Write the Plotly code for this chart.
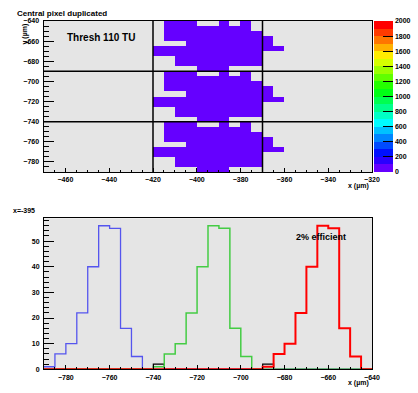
import colorsys
import plotly.graph_objects as go

# ---------------- data: top 2D map ----------------
map_x_centers = [-417.5, -412.5, -407.5, -402.5, -397.5, -392.5,
                 -387.5, -382.5, -377.5, -372.5, -367.5, -362.5]
map_y_centers = [-642.5, -647.5, -652.5, -657.5, -662.5, -667.5, -672.5, -677.5, -682.5, -687.5,
                 -692.5, -697.5, -702.5, -707.5, -712.5, -717.5, -722.5, -727.5, -732.5, -737.5,
                 -742.5, -747.5, -752.5, -757.5, -762.5, -767.5, -772.5, -777.5, -782.5, -787.5]
map_counts = [
    [0, 50, 50, 50, 0, 0, 50, 0, 50, 0, 0, 0],
    [0, 50, 50, 50, 50, 50, 50, 50, 50, 0, 0, 0],
    [0, 50, 50, 50, 50, 50, 50, 50, 50, 50, 0, 0],
    [0, 50, 50, 50, 50, 50, 50, 50, 50, 50, 50, 0],
    [0, 0, 0, 50, 50, 50, 50, 50, 50, 50, 50, 0],
    [50, 50, 50, 50, 50, 50, 50, 50, 50, 50, 50, 50],
    [50, 50, 50, 50, 50, 50, 50, 50, 50, 50, 0, 0],
    [0, 0, 50, 50, 50, 50, 50, 50, 50, 50, 0, 0],
    [0, 0, 50, 50, 50, 50, 50, 50, 50, 50, 0, 0],
    [0, 0, 0, 0, 50, 50, 50, 0, 0, 0, 0, 0],
    [0, 50, 50, 50, 0, 0, 50, 0, 50, 0, 0, 0],
    [0, 50, 50, 50, 50, 50, 50, 50, 50, 0, 0, 0],
    [0, 50, 50, 50, 50, 50, 50, 50, 50, 50, 0, 0],
    [0, 50, 50, 50, 50, 50, 50, 50, 50, 50, 50, 0],
    [0, 0, 0, 50, 50, 50, 50, 50, 50, 50, 50, 0],
    [50, 50, 50, 50, 50, 50, 50, 50, 50, 50, 50, 50],
    [50, 50, 50, 50, 50, 50, 50, 50, 50, 50, 0, 0],
    [0, 0, 50, 50, 50, 50, 50, 50, 50, 50, 0, 0],
    [0, 0, 50, 50, 50, 50, 50, 50, 50, 50, 0, 0],
    [0, 0, 0, 0, 50, 50, 50, 0, 0, 0, 0, 0],
    [0, 50, 50, 50, 0, 0, 50, 0, 50, 0, 0, 0],
    [0, 50, 50, 50, 50, 50, 50, 50, 50, 0, 0, 0],
    [0, 50, 50, 50, 50, 50, 50, 50, 50, 50, 0, 0],
    [0, 50, 50, 50, 50, 50, 50, 50, 50, 50, 50, 0],
    [0, 0, 0, 50, 50, 50, 50, 50, 50, 50, 50, 0],
    [50, 50, 50, 50, 50, 50, 50, 50, 50, 50, 50, 50],
    [50, 50, 50, 50, 50, 50, 50, 50, 50, 50, 0, 0],
    [0, 0, 50, 50, 50, 50, 50, 50, 50, 50, 0, 0],
    [0, 0, 50, 50, 50, 50, 50, 50, 50, 50, 0, 0],
    [0, 0, 0, 0, 50, 50, 50, 0, 0, 0, 0, 0],
]
pixel_lines_x = [-420, -370]
pixel_lines_y = [-690, -740]
colorbar_ticks = [0, 200, 400, 600, 800, 1000, 1200, 1400, 1600, 1800, 2000]

# ---------------- data: bottom histograms ----------------
hist_edges = [-790, -785, -780, -775, -770, -765, -760, -755, -750, -745,
              -740, -735, -730, -725, -720, -715, -710, -705, -700, -695,
              -690, -685, -680, -675, -670, -665, -660, -655, -650, -645, -640]
h_black = [0, 0, 0, 0, 0, 0, 0, 0, 0, 0,
           2, 0, 0, 0, 0, 0, 0, 0, 0, 0,
           2, 0, 0, 0, 0, 0, 0, 0, 0, 0]
h_blue = [1, 6, 10, 22, 40, 56, 55, 16, 5, 0,
          0, 0, 0, 0, 0, 0, 0, 0, 0, 0,
          0, 0, 0, 0, 0, 0, 0, 0, 0, 0]
h_green = [0, 0, 0, 0, 0, 0, 0, 0, 0, 0,
           1, 6, 10, 22, 40, 56, 55, 16, 5, 0,
           0, 0, 0, 0, 0, 0, 0, 0, 0, 0]
h_red = [0, 0, 0, 0, 0, 0, 0, 0, 0, 0,
         0, 0, 0, 0, 0, 0, 0, 0, 0, 0,
         1, 6, 10, 22, 40, 56, 55, 16, 5, 0]

# ---------------- build ----------------
W, H = 418, 393
FONT = "Liberation Sans"

def px_x(p):
    return p / W

def px_y(p):
    return 1 - p / H

# discrete ROOT-like rainbow palette (20 bands, violet -> red)
nb = 20
band_cols = []
for k in range(nb):
    hue = 264 * (1 - k / (nb - 1))
    r, g, b = colorsys.hls_to_rgb(hue / 360.0, 0.5, 1.0)
    band_cols.append(f"rgb({int(r*255)},{int(g*255)},{int(b*255)})")
cscale = []
for k, c in enumerate(band_cols):
    cscale.append([k / nb, c])
    cscale.append([(k + 1) / nb, c])

z = [[(v if v > 0 else None) for v in row] for row in map_counts]

# keep the end ticks just inside the bar so plotly does not drop them
cb_vals = [min(max(t, 0.01), 1999.99) for t in colorbar_ticks]
cb_text = [str(t) for t in colorbar_ticks]

fig = go.Figure()
fig.add_trace(go.Heatmap(
    x=map_x_centers, y=map_y_centers, z=z, xaxis="x", yaxis="y",
    zmin=0, zmax=2000, colorscale=cscale, hoverinfo="skip",
    colorbar=dict(
        x=px_x(374), xanchor="left", xpad=0, ypad=0,
        y=px_y(172), yanchor="bottom", len=151 / H, lenmode="fraction",
        thickness=19, thicknessmode="pixels", outlinewidth=0,
        tickvals=cb_vals, ticktext=cb_text, ticks="inside", ticklen=10, tickcolor="black",
        tickwidth=1, tickfont=dict(family=FONT, size=7, color="black", weight="bold"),
    ),
))

def step(vals):
    xs = hist_edges[:]
    ys = vals + [vals[-1]]
    return xs, ys

for vals, col, lw in [(h_black, "black", 1.2), (h_blue, "#5555ee", 1.3),
                      (h_green, "#44cc44", 1.5), (h_red, "#ff0000", 2)]:
    xs, ys = step(vals)
    fig.add_trace(go.Scatter(x=xs, y=ys, mode="lines", line=dict(shape="hv", color=col, width=lw),
                             xaxis="x2", yaxis="y2", hoverinfo="skip", showlegend=False))

tickfont = dict(family=FONT, size=7, color="black", weight="bold")
axcommon = dict(showgrid=False, zeroline=False, showline=True, linecolor="black", linewidth=1,
                mirror=True, ticks="inside", tickcolor="black", tickfont=tickfont,
                automargin=False)

for ln in pixel_lines_x:
    fig.add_shape(type="line", xref="x", yref="y", x0=ln, x1=ln, y0=-790, y1=-640,
                  line=dict(color="black", width=1.5), layer="above")
for ln in pixel_lines_y:
    fig.add_shape(type="line", xref="x", yref="y", x0=-470, x1=-320, y0=ln, y1=ln,
                  line=dict(color="black", width=1.5), layer="above")

fig.update_layout(
    width=W, height=H, margin=dict(l=0, r=0, t=0, b=0, autoexpand=False),
    paper_bgcolor="white", plot_bgcolor="#e5e5e5", showlegend=False,
    xaxis=dict(domain=[px_x(43.5), px_x(372)], anchor="y", range=[-470, -320],
               tickvals=[-460, -440, -420, -400, -380, -360, -340, -320], ticklen=4.5,
               minor=dict(dtick=5, ticklen=2.3, ticks="inside", tickcolor="black"),
               ticklabelstandoff=1, **axcommon),
    yaxis=dict(domain=[px_y(172), px_y(21)], anchor="x", range=[-790, -640],
               tickvals=[-780, -760, -740, -720, -700, -680, -660, -640], ticklen=10,
               minor=dict(dtick=5, ticklen=5, ticks="inside", tickcolor="black"),
               ticklabelstandoff=2, **axcommon),
    xaxis2=dict(domain=[px_x(44), px_x(372)], anchor="y2", range=[-790, -640],
                tickvals=[-780, -760, -740, -720, -700, -680, -660, -640], ticklen=4.5,
                minor=dict(dtick=5, ticklen=2.3, ticks="inside", tickcolor="black"),
                ticklabelstandoff=1, **axcommon),
    yaxis2=dict(domain=[px_y(369.3), px_y(218.3)], anchor="x2", range=[0, 58.9],
                tickvals=[0, 10, 20, 30, 40, 50], ticklen=10,
                minor=dict(dtick=2, ticklen=5, ticks="inside", tickcolor="black"),
                ticklabelstandoff=2, **axcommon),
)

def note(text, x, y, size, xanchor="left", yanchor="middle", angle=0):
    fig.add_annotation(text=text, x=px_x(x), y=px_y(y), xref="paper", yref="paper",
                       xanchor=xanchor, yanchor=yanchor, textangle=angle, showarrow=False,
                       font=dict(family=FONT, size=size, color="black", weight="bold"))

note("Central pixel duplicated", 15, 13, 8)
note("Thresh 110 TU", 65, 38, 10)
note("x (µm)", 371, 186, 7, xanchor="right")
note("y (µm)", 19, 22, 7, yanchor="top", angle=-90)
note("x=-395", 11, 210.5, 7)
note("2% efficient", 294, 237, 9)
note("x (µm)", 371, 383, 7, xanchor="right")

fig.write_html("out.html", config={"displayModeBar": False},
               post_script="document.body.style.margin='0';document.body.style.overflow='hidden';")
